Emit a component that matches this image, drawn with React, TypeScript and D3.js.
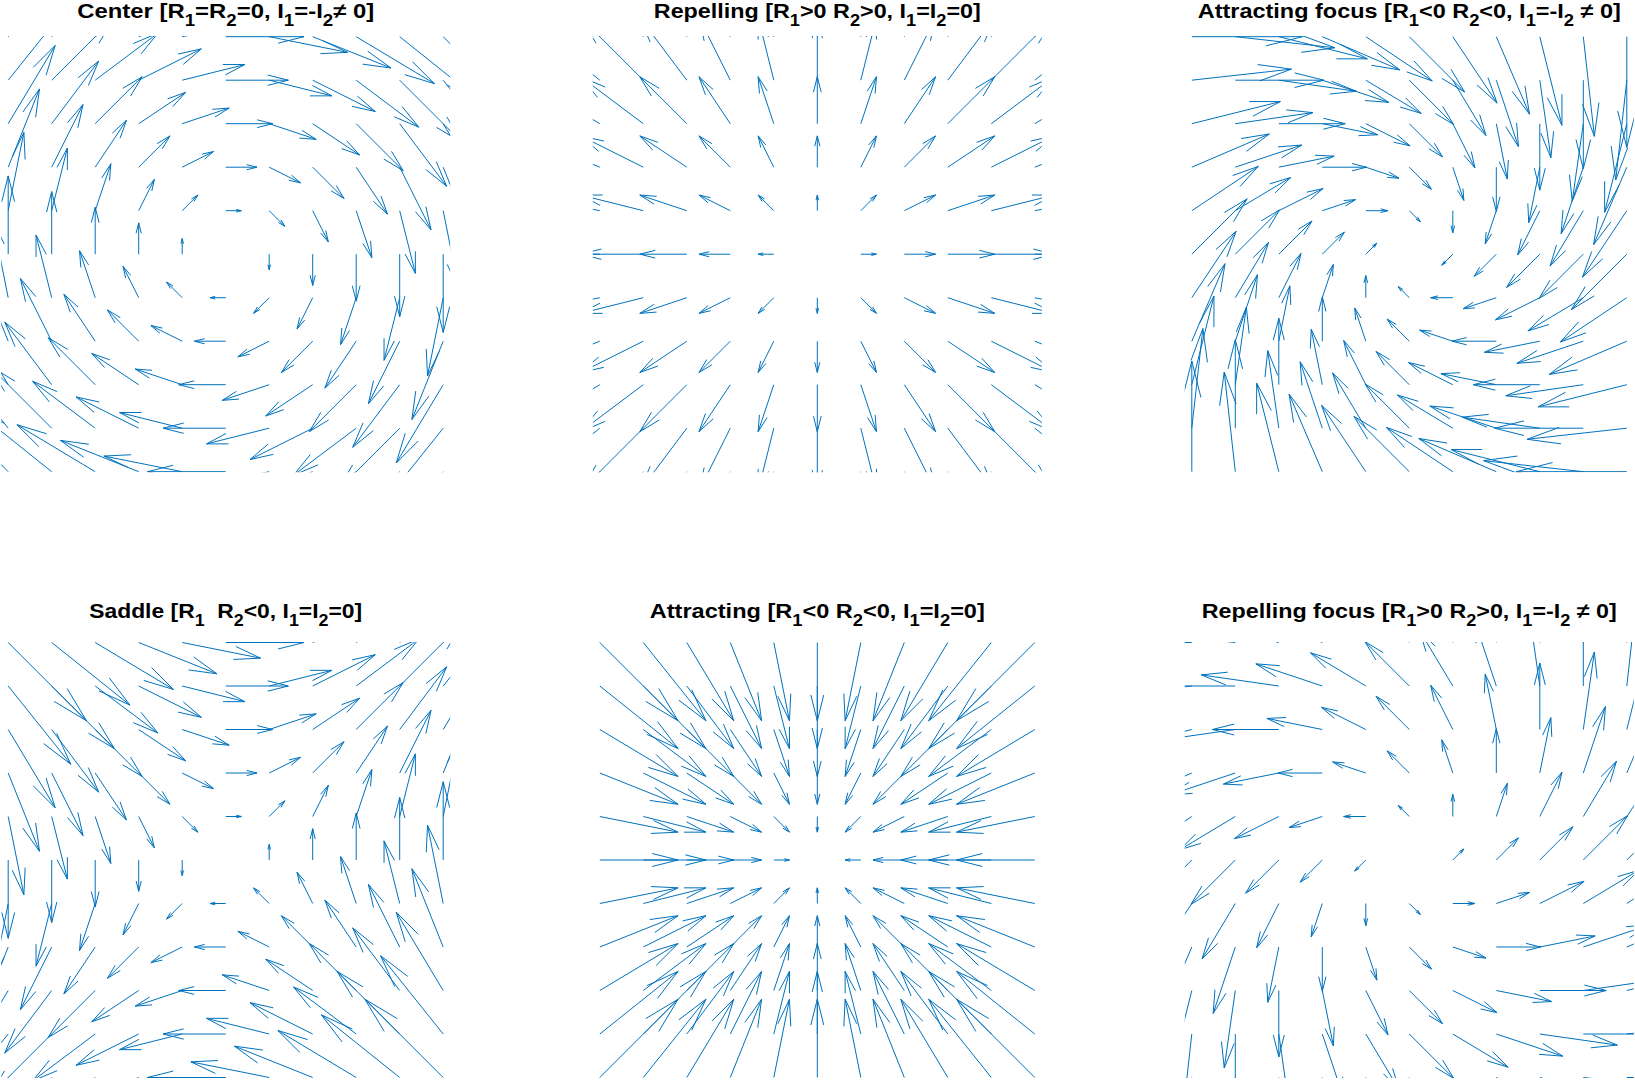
import React from 'react';
import * as d3 from 'd3';

// Grid of the quiver plots (same in x and y)
const gridValues = [-5, -4, -3, -2, -1, 0, 1, 2, 3, 4, 5];

// Linear systems  [u; v] = M [x; y]  for each panel
const centerMatrix = [[0, 1], [-1, 0]];
const repellingMatrix = [[1, 0], [0, 1]];
const attractingFocusMatrix = [[-1, 1], [-1, -1]];
const saddleMatrix = [[0, 1], [1, 0]];
const attractingMatrix = [[-1, 0], [0, -1]];
const repellingFocusMatrix = [[1, -1], [1, 1]];

// quiver scale argument (MATLAB autoscale factor)
const quiverScale = 2.2;

// Titles: [text, isSubscript]
const centerTitle: [string, boolean][] = [["Center [R", false], ["1", true], ["=R", false], ["2", true], ["=0, I", false], ["1", true], ["=-I", false], ["2", true], ["\u2260 0]", false]];
const repellingTitle: [string, boolean][] = [["Repelling [R", false], ["1", true], [">0 R", false], ["2", true], [">0, I", false], ["1", true], ["=I", false], ["2", true], ["=0]", false]];
const attractingFocusTitle: [string, boolean][] = [["Attracting focus [R", false], ["1", true], ["<0 R", false], ["2", true], ["<0, I", false], ["1", true], ["=-I", false], ["2", true], [" \u2260 0]", false]];
const saddleTitle: [string, boolean][] = [["Saddle [R", false], ["1", true], ["  R", false], ["2", true], ["<0, I", false], ["1", true], ["=I", false], ["2", true], ["=0]", false]];
const attractingTitle: [string, boolean][] = [["Attracting [R", false], ["1", true], ["<0 R", false], ["2", true], ["<0, I", false], ["1", true], ["=I", false], ["2", true], ["=0]", false]];
const repellingFocusTitle: [string, boolean][] = [["Repelling focus [R", false], ["1", true], [">0 R", false], ["2", true], [">0, I", false], ["1", true], ["=-I", false], ["2", true], [" \u2260 0]", false]];

const panels = [
  { matrix: centerMatrix, title: centerTitle, col: 0, row: 0, titleWidth: 297 },
  { matrix: repellingMatrix, title: repellingTitle, col: 1, row: 0, titleWidth: 327 },
  { matrix: attractingFocusMatrix, title: attractingFocusTitle, col: 2, row: 0, titleWidth: 423 },
  { matrix: saddleMatrix, title: saddleTitle, col: 0, row: 1, titleWidth: 273 },
  { matrix: attractingMatrix, title: attractingTitle, col: 1, row: 1, titleWidth: 335 },
  { matrix: repellingFocusMatrix, title: repellingFocusTitle, col: 2, row: 1, titleWidth: 415 },
];

// Layout
const W = 1635;
const H = 1080;
const colCenters = [225.7, 817.3, 1409.3];
const rowCenters = [254.2, 860];
const titleBaselines = [17.5, 617.5];
const halfW = 224.5;
const halfH = 217.5;
const yLim = 5;
const xLim = (yLim * halfW) / halfH;
const COLOR = '#0072BD';
const TITLE_SIZE = 20.5;
const SUB_SIZE = 16;
const SUB_SHIFT = 8;

function buildArrows(matrix: number[][]) {
  const pts: { x: number; y: number; u: number; v: number }[] = [];
  for (const yv of gridValues) {
    for (const xv of gridValues) {
      const u = matrix[0][0] * xv + matrix[0][1] * yv;
      const v = matrix[1][0] * xv + matrix[1][1] * yv;
      pts.push({ x: xv, y: yv, u, v });
    }
  }
  // MATLAB quiver autoscale
  const n = Math.sqrt(pts.length);
  const ext = d3.extent(gridValues) as [number, number];
  const delx = (ext[1] - ext[0]) / n;
  const dely = (ext[1] - ext[0]) / n;
  const del = delx * delx + dely * dely;
  const maxlen = d3.max(pts, (p) => Math.sqrt((p.u * p.u + p.v * p.v) / del)) || 1;
  const s = (quiverScale * 0.9) / maxlen;
  return pts.map((p) => ({ ...p, u: p.u * s, v: p.v * s }));
}

function Panel({ panel, idx }: { panel: typeof panels[number]; idx: number }) {
  const cx = colCenters[panel.col];
  const cy = rowCenters[panel.row];
  const xs = d3.scaleLinear().domain([-xLim, xLim]).range([cx - halfW, cx + halfW]);
  const ys = d3.scaleLinear().domain([-yLim, yLim]).range([cy + halfH, cy - halfH]);
  const arrows = buildArrows(panel.matrix);
  const alpha = 0.33;
  const beta = 0.25;
  const eps = 1e-12;
  const path = d3.path();
  arrows.forEach((a) => {
    if (Math.abs(a.u) < 1e-9 && Math.abs(a.v) < 1e-9) return;
    const { x, y, u, v } = a;
    path.moveTo(xs(x), ys(y));
    path.lineTo(xs(x + u), ys(y + v));
    const h1x = x + u - alpha * (u + beta * (v + eps));
    const h1y = y + v - alpha * (v - beta * (u + eps));
    const h3x = x + u - alpha * (u - beta * (v + eps));
    const h3y = y + v - alpha * (v + beta * (u + eps));
    path.moveTo(xs(h1x), ys(h1y));
    path.lineTo(xs(x + u), ys(y + v));
    path.lineTo(xs(h3x), ys(h3y));
  });
  const clipId = `clip-${idx}`;
  return (
    <g>
      <defs>
        <clipPath id={clipId}>
          <rect x={cx - halfW} y={cy - halfH - 0.6} width={halfW * 2} height={halfH * 2 + 1.2} />
        </clipPath>
      </defs>
      <g clipPath={`url(#${clipId})`}>
        <path d={path.toString()} fill="none" stroke={COLOR} strokeWidth={1} strokeLinejoin="miter" />
      </g>
      <text
        x={cx}
        y={titleBaselines[panel.row]}
        textAnchor="middle"
        fontFamily="'Liberation Sans', Arial, Helvetica, sans-serif"
        fontWeight="bold"
        fontSize={TITLE_SIZE}
        fill="#000"
        textLength={panel.titleWidth}
        lengthAdjust="spacingAndGlyphs"
      >
        {panel.title.map(([t, sub], i) => {
          const prevSub = i > 0 && panel.title[i - 1][1];
          const dy = sub ? SUB_SHIFT : prevSub ? -SUB_SHIFT : 0;
          return (
            <tspan key={i} dy={dy} fontSize={sub ? SUB_SIZE : TITLE_SIZE} style={{ whiteSpace: 'pre' }}>
              {t}
            </tspan>
          );
        })}
      </text>
    </g>
  );
}

export default function App() {
  return (
    <svg
      width={W}
      height={H}
      style={{ position: 'absolute', left: 0, top: 0, background: '#fff' }}
      xmlSpace="preserve"
    >
      <rect x={0} y={0} width={W} height={H} fill="#fff" />
      {panels.map((p, i) => (
        <Panel key={i} panel={p} idx={i} />
      ))}
    </svg>
  );
}
